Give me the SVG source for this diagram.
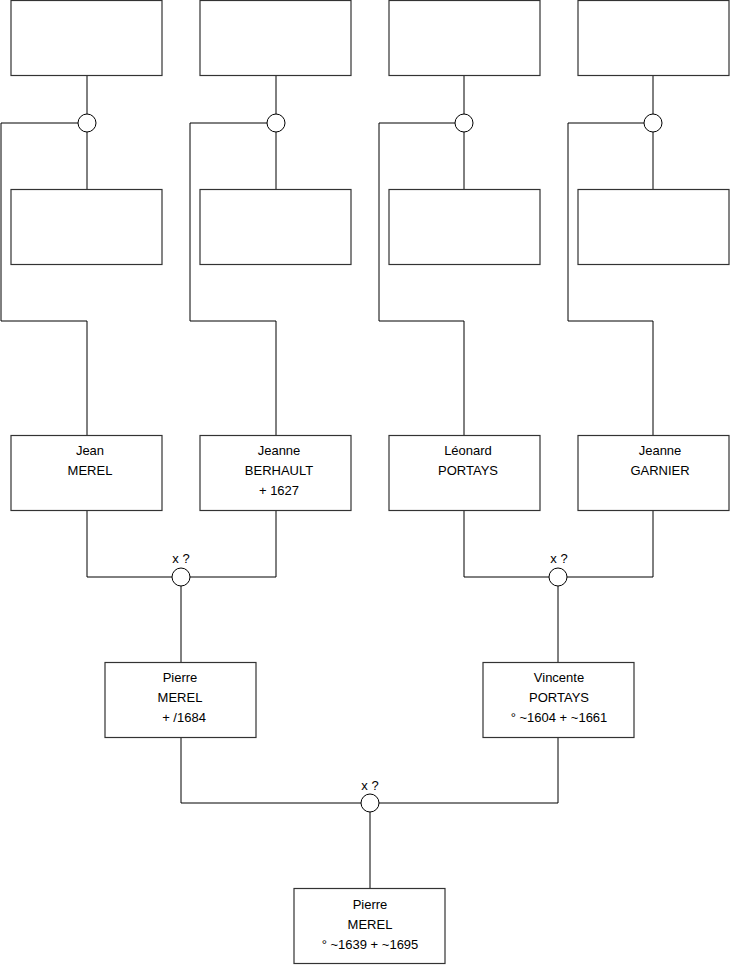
<svg xmlns="http://www.w3.org/2000/svg" width="740" height="975" viewBox="0 0 740 975">
<style>
.box{fill:#fff;stroke:#333;stroke-width:1.2}
.ln{fill:none;stroke:#000;stroke-width:1}
.ring{fill:#fff;stroke:#000;stroke-width:1}
text{font-family:"Liberation Sans",Arial,sans-serif;font-size:13px;fill:#000;text-anchor:middle}
</style>
<rect width="740" height="975" fill="#fff"/>
<g id="connectors">
<path class="ln" d="M87 76V114M87 132V189"/>
<path class="ln" d="M276 76V114M276 132V189"/>
<path class="ln" d="M464 76V114M464 132V189"/>
<path class="ln" d="M653 76V114M653 132V189"/>
<path class="ln" d="M78 123H1V321H87V435"/>
<path class="ln" d="M267 123H190V321H276V435"/>
<path class="ln" d="M455 123H379V321H464V435"/>
<path class="ln" d="M644 123H568V321H653V435"/>
<path class="ln" d="M87 511V577H172M190 577H276V511M181 586V662"/>
<path class="ln" d="M464 511V577H549M567 577H653V511M558 586V662"/>
<path class="ln" d="M181 737V803H361M379 803H558V737M370 812V888"/>
</g>
<g id="f1"><circle class="ring" cx="87" cy="123" r="9"/></g>
<g id="f2"><circle class="ring" cx="276" cy="123" r="9"/></g>
<g id="f3"><circle class="ring" cx="464" cy="123" r="9"/></g>
<g id="f4"><circle class="ring" cx="653" cy="123" r="9"/></g>
<g id="m1"><circle class="ring" cx="181" cy="577" r="9"/><text x="181" y="563">x ?</text></g>
<g id="m2"><circle class="ring" cx="558" cy="577" r="9"/><text x="559" y="563">x ?</text></g>
<g id="m3"><circle class="ring" cx="370" cy="803" r="9"/><text x="370" y="790">x ?</text></g>
<g id="a1"><rect class="box" x="11" y="0.5" width="151" height="75"/></g>
<g id="a2"><rect class="box" x="200" y="0.5" width="151" height="75"/></g>
<g id="a3"><rect class="box" x="389" y="0.5" width="151" height="75"/></g>
<g id="a4"><rect class="box" x="578" y="0.5" width="151" height="75"/></g>
<g id="b1"><rect class="box" x="11" y="189.5" width="151" height="75"/></g>
<g id="b2"><rect class="box" x="200" y="189.5" width="151" height="75"/></g>
<g id="b3"><rect class="box" x="389" y="189.5" width="151" height="75"/></g>
<g id="b4"><rect class="box" x="578" y="189.5" width="151" height="75"/></g>
<g id="jean"><rect class="box" x="11" y="435.5" width="151" height="75"/><text x="90" y="455">Jean</text><text x="90" y="475">MEREL</text></g>
<g id="jeanneB"><rect class="box" x="200" y="435.5" width="151" height="75"/><text x="279" y="455">Jeanne</text><text x="279" y="475">BERHAULT</text><text x="279" y="495">+ 1627</text></g>
<g id="leonard"><rect class="box" x="389" y="435.5" width="151" height="75"/><text x="468" y="455">Léonard</text><text x="468" y="475">PORTAYS</text></g>
<g id="jeanneG"><rect class="box" x="578" y="435.5" width="151" height="75"/><text x="660" y="455">Jeanne</text><text x="660" y="475">GARNIER</text></g>
<g id="pierre1"><rect class="box" x="105" y="662.5" width="151" height="75"/><text x="180" y="682">Pierre</text><text x="180" y="702">MEREL</text><text x="184" y="722">+ /1684</text></g>
<g id="vincente"><rect class="box" x="483" y="662.5" width="151" height="75"/><text x="559" y="682">Vincente</text><text x="559" y="702">PORTAYS</text><text x="559" y="722">° ~1604 + ~1661</text></g>
<g id="pierre2"><rect class="box" x="294" y="888.5" width="151" height="75"/><text x="370" y="909">Pierre</text><text x="370" y="929">MEREL</text><text x="370" y="949">° ~1639 + ~1695</text></g>
</svg>
